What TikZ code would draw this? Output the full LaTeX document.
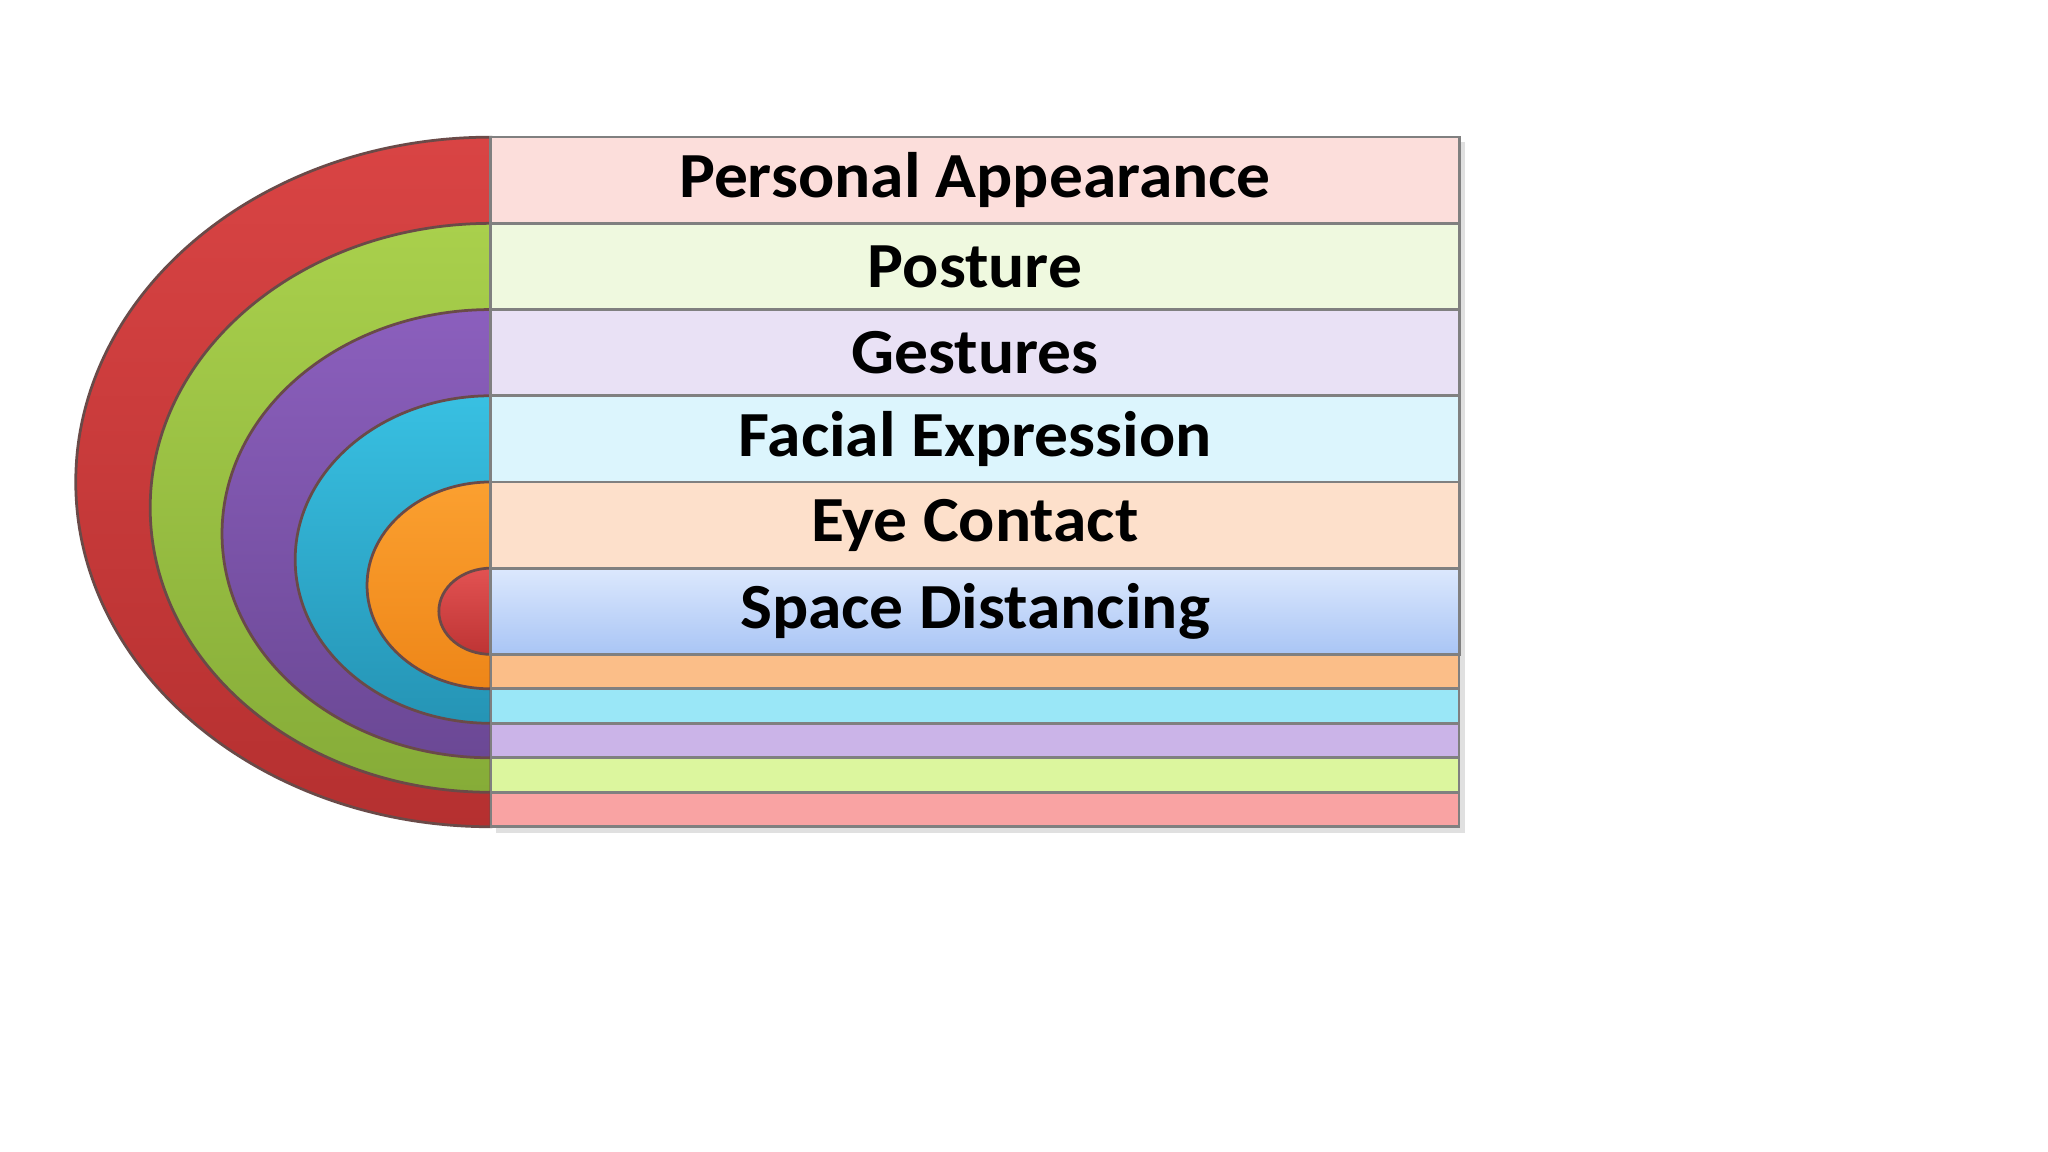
\documentclass[tikz,border=0pt]{standalone}
\usepackage{fontspec}
\setmainfont{Carlito}[FakeStretch=1.05]
\usepackage{tikz}
\usetikzlibrary{positioning, calc}

\definecolor{ringred}{HTML}{D94444}
\definecolor{ringreddk}{HTML}{B53030}
\definecolor{ringgreen}{HTML}{A9D04C}
\definecolor{ringgreendk}{HTML}{86AC38}
\definecolor{ringpurple}{HTML}{8B5FBD}
\definecolor{ringpurpledk}{HTML}{6B4895}
\definecolor{ringcyan}{HTML}{38C0E2}
\definecolor{ringcyandk}{HTML}{2594B5}
\definecolor{ringorange}{HTML}{FBA030}
\definecolor{ringorangedk}{HTML}{EE8618}
\definecolor{ringcore}{HTML}{E25252}
\definecolor{ringcoredk}{HTML}{BE3434}

\definecolor{rowred}{HTML}{FCDEDB}
\definecolor{rowgreen}{HTML}{EFF9DF}
\definecolor{rowpurple}{HTML}{E9E1F5}
\definecolor{rowcyan}{HTML}{DCF5FD}
\definecolor{roworange}{HTML}{FDE0CB}
\definecolor{rowblue}{HTML}{DCE8FD}
\definecolor{rowbluedk}{HTML}{A9C5F5}

\definecolor{stripeorange}{HTML}{FBBE88}
\definecolor{stripecyan}{HTML}{9AE7F7}
\definecolor{stripepurple}{HTML}{CBB4E8}
\definecolor{stripegreen}{HTML}{DCF69E}
\definecolor{stripered}{HTML}{F9A3A3}
\definecolor{edge}{HTML}{6A4A48}

\tikzstyle{ring} = [draw=edge, line width=0.6pt]
\tikzstyle{row} = [rectangle, draw=black!50, line width=0.6pt, minimum width=7.41cm, minimum height=0.66cm, inner sep=0pt, font=\fontsize{14}{16}\selectfont\bfseries, text=black]
\tikzstyle{stripe} = [draw=black!50, line width=0.6pt]

\begin{document}
\begin{tikzpicture}[x=0.01cm, y=0.01cm]
    \useasboundingbox (0,0) rectangle (1568,-882);
    \fill [white] (0,0) rectangle (1568,-882);

    % Shadow
    \fill [black!12] (380,-109) rectangle (1122,-638);

    % Rings
    \draw [ring, top color=ringred, bottom color=ringreddk] (376,-105) arc[start angle=90, end angle=270, x radius=318, y radius=264] -- cycle;
    \draw [ring, top color=ringgreen, bottom color=ringgreendk] (376,-171) arc[start angle=90, end angle=270, x radius=261, y radius=217.8] -- cycle;
    \draw [ring, top color=ringpurple, bottom color=ringpurpledk] (376,-237) arc[start angle=90, end angle=270, x radius=206, y radius=171.6] -- cycle;
    \draw [ring, top color=ringcyan, bottom color=ringcyandk] (376,-303) arc[start angle=90, end angle=270, x radius=150, y radius=125.4] -- cycle;
    \draw [ring, top color=ringorange, bottom color=ringorangedk] (376,-369) arc[start angle=90, end angle=270, x radius=95, y radius=79.2] -- cycle;
    \draw [ring, top color=ringcore, bottom color=ringcoredk] (376,-435) arc[start angle=90, end angle=270, x radius=40, y radius=33] -- cycle;

    % Stripes
    \draw [stripe, fill=stripeorange] (376,-501) rectangle (1117,-527.4);
    \draw [stripe, fill=stripecyan] (376,-527.4) rectangle (1117,-553.8);
    \draw [stripe, fill=stripepurple] (376,-553.8) rectangle (1117,-580.2);
    \draw [stripe, fill=stripegreen] (376,-580.2) rectangle (1117,-606.6);
    \draw [stripe, fill=stripered] (376,-606.6) rectangle (1117,-633);

    % Rows
    \node (appearance) at (746.5,-138) [row, fill=rowred] {Personal Appearance};
    \node (posture) at (746.5,-204) [row, fill=rowgreen] {Posture};
    \node (gestures) at (746.5,-270) [row, fill=rowpurple] {Gestures};
    \node (facial) at (746.5,-336) [row, fill=rowcyan] {Facial Expression};
    \node (eye) at (746.5,-402) [row, fill=roworange] {Eye Contact};
    \node (space) at (746.5,-468) [row, top color=rowblue, bottom color=rowbluedk] {Space Distancing};
\end{tikzpicture}
\end{document}
